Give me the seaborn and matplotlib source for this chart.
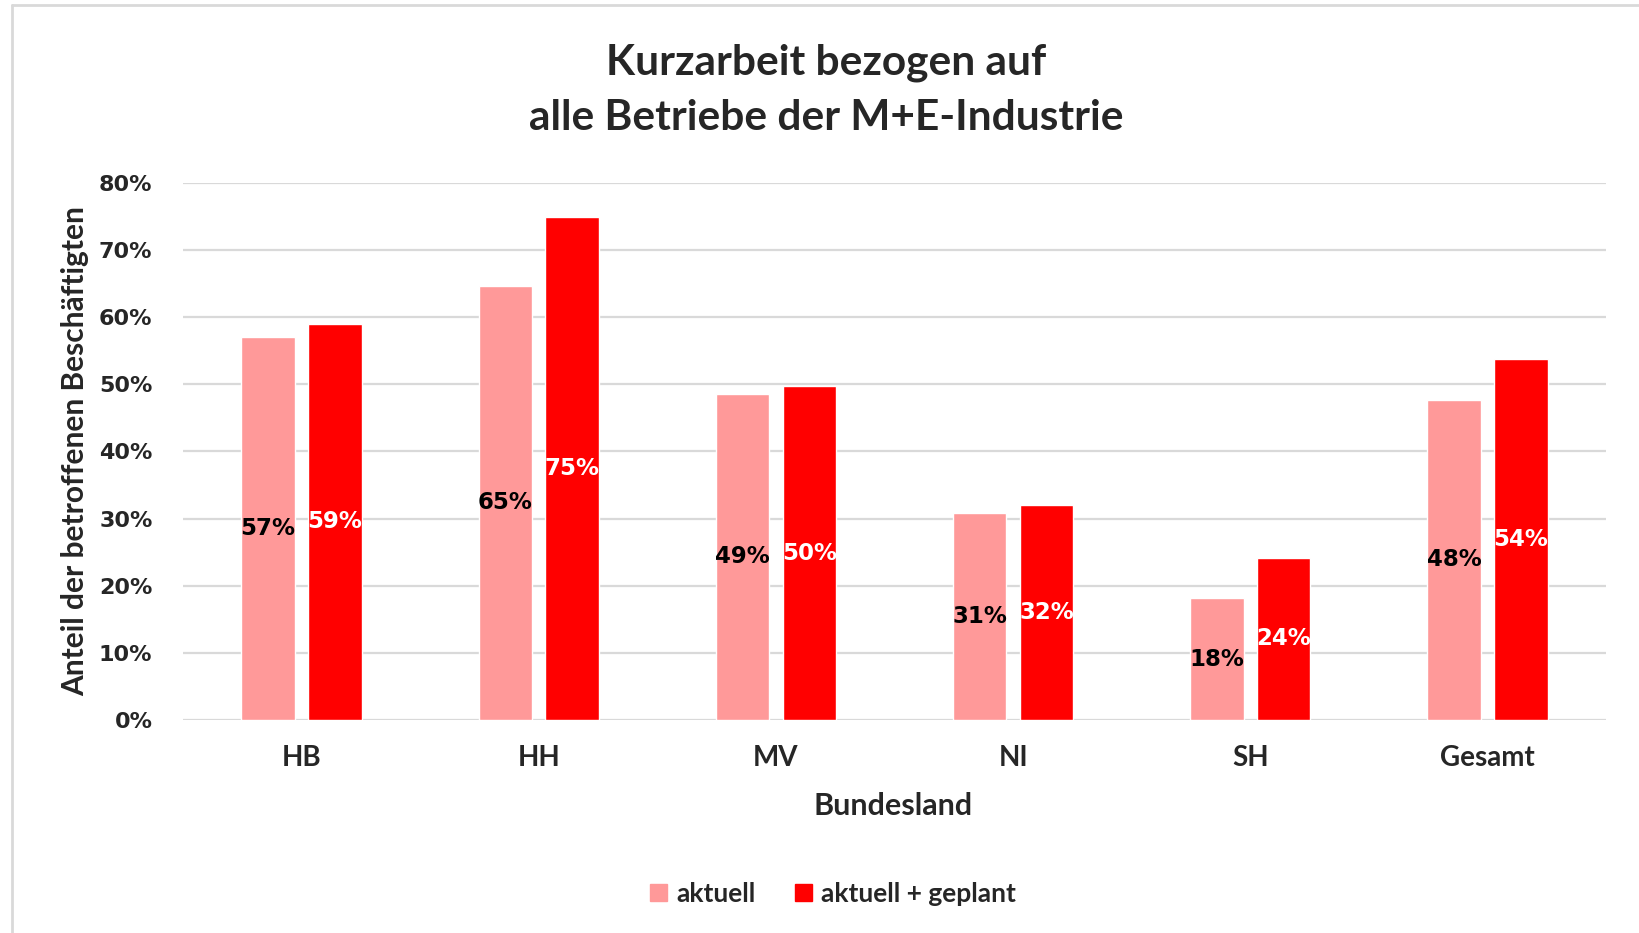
import matplotlib
matplotlib.use("Agg")
import matplotlib.pyplot as plt
from matplotlib.lines import Line2D
from matplotlib.ticker import PercentFormatter
import pandas as pd
import seaborn as sns

laender = ["HB", "HH", "MV", "NI", "SH", "Gesamt"]
aktuell = [57.1, 64.7, 48.6, 30.9, 18.1, 47.7]
aktuell_geplant = [59.0, 75.0, 49.7, 32.1, 24.2, 53.8]
serien = ["aktuell", "aktuell + geplant"]
farben = ["#FF9999", "#FF0000"]
label_farben = ["black", "white"]

sns.set_theme(style="white")
plt.rcParams['font.family'] = ['Lato', 'DejaVu Sans']
plt.rcParams['font.weight'] = 'bold'
zahl_font = ['DejaVu Sans']

df = pd.DataFrame({
    "Bundesland": laender * 2,
    "Anteil": aktuell + aktuell_geplant,
    "Serie": [serien[0]] * len(laender) + [serien[1]] * len(laender),
})

fig = plt.figure(figsize=(16.4, 9.33), dpi=100)
ax = fig.add_axes([0.1116, 0.2283, 0.8677, 0.5756])

sns.barplot(data=df, x="Bundesland", y="Anteil", hue="Serie", palette=farben,
            width=0.564, gap=0.2, saturation=1, ax=ax, legend=False)

for cont, col in zip(ax.containers, label_farben):
    labs = [f"{round(b.get_height())}%" for b in cont]
    ax.bar_label(cont, labels=labs, label_type='center', color=col,
                 fontsize=16.5, fontweight='bold', family=zahl_font)

ax.set_ylim(0, 80)
ax.set_xlim(-0.5, 5.5)
ax.set_yticks(range(0, 81, 10))
ax.yaxis.set_major_formatter(PercentFormatter(decimals=0))
ax.yaxis.grid(True, color="#D9D9D9", linewidth=1.6)
ax.set_axisbelow(True)
for s in ax.spines.values():
    s.set_visible(False)
ax.tick_params(axis='y', length=0, pad=22)
ax.tick_params(axis='x', length=0, pad=18)
for t in ax.get_yticklabels():
    t.set_fontweight('bold')
    t.set_family(zahl_font)
    t.set_fontsize(16)
for t in ax.get_xticklabels():
    t.set_fontweight('bold')
    t.set_fontsize(20)

ax.set_xlabel("Bundesland", fontsize=22, fontweight='bold')
ax.set_ylabel("Anteil der betroffenen Beschäftigten", fontsize=21.5, fontweight='bold')
ax.xaxis.set_label_coords(0.499, -0.160)
ax.yaxis.set_label_coords(-0.0759, 0.5)
ax.xaxis.label.set_va('center')
ax.yaxis.label.set_va('center')

fig.text(0.504, 0.933, "Kurzarbeit bezogen auf", ha='center', va='center',
         fontsize=30.5, fontweight='bold')
fig.text(0.504, 0.874, "alle Betriebe der M+E-Industrie", ha='center', va='center',
         fontsize=30.5, fontweight='bold')

handles = [plt.Rectangle((0, 0), 1, 1, color=c) for c in farben]
fig.legend(handles, serien, loc='center', bbox_to_anchor=(0.508, 0.042), ncol=2,
           frameon=False, fontsize=19, handlelength=0.65, handleheight=0.65,
           handletextpad=0.35, columnspacing=1.5)

fig.add_artist(Line2D([0.0073, 1.0], [0.9946, 0.9946], color="#D9D9D9", linewidth=2,
                      transform=fig.transFigure))
fig.add_artist(Line2D([0.0073, 0.0073], [0.0, 0.9946], color="#D9D9D9", linewidth=2,
                      transform=fig.transFigure))

fig.savefig("out.png", dpi=100, facecolor="white")
